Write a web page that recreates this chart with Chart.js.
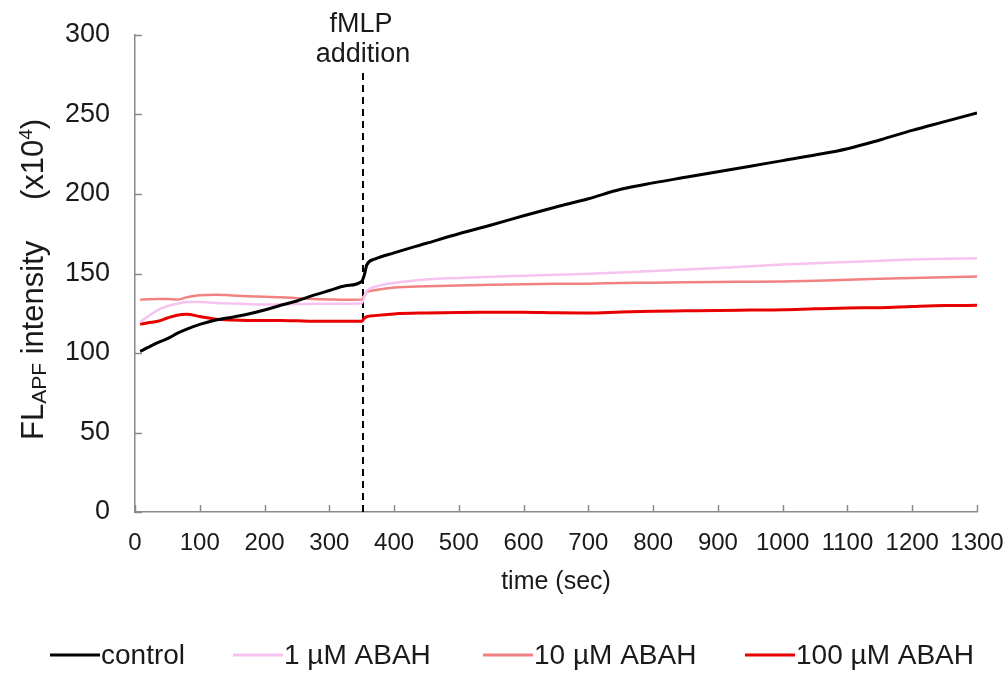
<!DOCTYPE html>
<html>
<head>
<meta charset="utf-8">
<title>FL APF intensity over time</title>
<script src="https://cdn.jsdelivr.net/npm/chart.js@4.4.1/dist/chart.umd.min.js"></script>
<style>
  html, body { margin: 0; padding: 0; background: #ffffff; }
  #wrap { width: 1006px; height: 673px; position: relative; }
</style>
</head>
<body>
<div id="wrap"><canvas id="chart"></canvas></div>
<script>
// Sampling times (sec)
const timeSec = [8, 20, 35, 50, 65, 80, 100, 125, 150, 175, 200, 225, 250, 275, 300, 325, 350,
  354, 358, 370, 400, 450, 500, 550, 600, 650, 700, 750, 800, 850, 900, 950, 1000,
  1050, 1100, 1150, 1200, 1250, 1300];

// FL(APF) intensity, x10^4
const controlValues = [101, 103.5, 106.5, 109, 112.3, 115, 118, 120.8, 122.5, 124.5, 127, 130, 132.7, 136.2, 139.3, 142.3, 145,
  149, 155.5, 159, 163, 169, 175, 180.5, 186.3, 191.8, 197, 203, 207, 210.5, 214, 217.5, 221,
  224.5, 228.5, 234, 240, 245.5, 251];
const abah1Values = [119.5, 123, 127, 129.5, 131, 132, 132, 131.5, 131.2, 130.8, 130.5, 130.5, 130.8, 131, 131, 131, 131.3,
  135, 139, 141.5, 144, 146.2, 147.2, 148, 148.6, 149.2, 149.8, 150.6, 151.5, 152.5, 153.5, 154.5, 155.6,
  156.5, 157.2, 158, 158.8, 159.3, 159.6];
const abah10Values = [133.5, 133.8, 134, 134, 133.6, 135, 136.3, 136.7, 136.2, 135.7, 135.3, 135, 134.5, 134, 133.7, 133.5, 133.6,
  136, 138.3, 139.5, 141.2, 142, 142.5, 143, 143.3, 143.5, 143.6, 144, 144.2, 144.5, 144.7, 144.8, 145,
  145.5, 146, 146.7, 147.2, 147.7, 148.1];
const abah100Values = [118, 119, 120, 122, 123.8, 124.3, 123, 121.3, 120.7, 120.5, 120.5, 120.5, 120.3, 120, 120, 120, 120,
  121.8, 122.8, 123.5, 124.6, 125.2, 125.5, 125.6, 125.7, 125.3, 125.2, 125.8, 126.2, 126.5, 126.8, 127, 127.2,
  127.8, 128.3, 128.5, 129.2, 129.8, 130];

// fMLP addition marker
const fmlpTime = 352;
const fmlpMarkerRange = [0, 278];

const seriesLabels = ['control', '1 \u00b5M ABAH', '10 \u00b5M ABAH', '100 \u00b5M ABAH'];
const seriesColors = ['#000000', '#f6c3f1', '#f28282', '#e80000'];
const seriesWidths = [3, 2.5, 2.5, 3];
const seriesValues = [controlValues, abah1Values, abah10Values, abah100Values];

const FF = "'Liberation Sans', Arial, Helvetica, sans-serif";
const TEXT = '#1a1a1a';
const AXIS = '#8a8a8a';

const toPoints = vals => timeSec.map((t, i) => ({ x: t, y: vals[i] }));

const datasets = seriesValues.map((vals, i) => ({
  label: seriesLabels[i],
  data: toPoints(vals),
  borderColor: seriesColors[i],
  backgroundColor: seriesColors[i],
  borderWidth: seriesWidths[i],
  pointRadius: 0,
  cubicInterpolationMode: 'monotone',
  fill: false
}));
datasets.push({
  label: 'fMLP addition',
  data: fmlpMarkerRange.map(v => ({ x: fmlpTime, y: v })),
  borderColor: '#000000',
  borderWidth: 2,
  borderDash: [7, 5],
  pointRadius: 0,
  fill: false,
  inLegend: false
});

// Inward tick marks on both axes
const innerTicks = {
  id: 'innerTicks',
  afterDraw(chart) {
    const { ctx, chartArea } = chart;
    const xs = chart.scales.x, ys = chart.scales.y;
    ctx.save();
    ctx.strokeStyle = AXIS;
    ctx.lineWidth = 1.5;
    ctx.beginPath();
    ys.ticks.forEach(t => {
      const p = Math.round(ys.getPixelForValue(t.value)) + 0.5;
      ctx.moveTo(chartArea.left, p);
      ctx.lineTo(chartArea.left + 7, p);
    });
    xs.ticks.forEach(t => {
      const p = Math.round(xs.getPixelForValue(t.value)) + 0.5;
      ctx.moveTo(p, chartArea.bottom);
      ctx.lineTo(p, chartArea.bottom - 7);
    });
    ctx.stroke();
    ctx.restore();
  }
};

// Rotated y-axis title with subscript and superscript
const yTitle = {
  id: 'yTitle',
  afterDraw(chart) {
    const ctx = chart.ctx;
    ctx.save();
    ctx.fillStyle = TEXT;
    ctx.translate(43, 0);
    ctx.rotate(-Math.PI / 2);
    ctx.textAlign = 'left';
    ctx.textBaseline = 'alphabetic';
    let u = -440;
    ctx.font = `31px ${FF}`;
    ctx.fillText('FL', u, 0);
    u += ctx.measureText('FL').width;
    ctx.font = `21px ${FF}`;
    ctx.fillText('APF', u, 3);
    u += ctx.measureText('APF').width;
    ctx.font = `31px ${FF}`;
    ctx.fillText(' intensity', u, 0);
    u = -200;
    ctx.fillText('(x10', u, 0);
    u += ctx.measureText('(x10').width;
    ctx.font = `19px ${FF}`;
    ctx.fillText('4', u, -11);
    u += ctx.measureText('4').width;
    ctx.font = `31px ${FF}`;
    ctx.fillText(')', u, 0);
    ctx.restore();
  }
};

// Label above the fMLP marker line
const fmlpLabel = {
  id: 'fmlpLabel',
  afterDraw(chart) {
    const ctx = chart.ctx;
    const px = chart.scales.x.getPixelForValue(fmlpTime);
    ctx.save();
    ctx.fillStyle = TEXT;
    ctx.font = `27px ${FF}`;
    ctx.textAlign = 'center';
    ctx.textBaseline = 'alphabetic';
    ctx.fillText('fMLP', px - 2, 32);
    ctx.fillText('addition', px, 62);
    ctx.restore();
  }
};

// Legend row along the bottom
const legendStarts = [50, 233, 483, 745];
const bottomLegend = {
  id: 'bottomLegend',
  afterDraw(chart) {
    const ctx = chart.ctx;
    const y = 655;
    ctx.save();
    ctx.font = `28px ${FF}`;
    ctx.textBaseline = 'middle';
    ctx.textAlign = 'left';
    chart.data.datasets.filter(d => d.inLegend !== false).forEach((d, i) => {
      const x0 = legendStarts[i];
      ctx.strokeStyle = d.borderColor;
      ctx.lineWidth = 3;
      ctx.beginPath();
      ctx.moveTo(x0, y);
      ctx.lineTo(x0 + 50, y);
      ctx.stroke();
      ctx.fillStyle = TEXT;
      ctx.fillText(d.label, x0 + 51, y + 1);
    });
    ctx.restore();
  }
};

new Chart(document.getElementById('chart'), {
  type: 'line',
  data: { datasets },
  options: {
    responsive: true,
    maintainAspectRatio: false,
    animation: false,
    devicePixelRatio: 1,
    layout: { padding: { left: 0, right: 29, top: 35, bottom: 61 } },
    plugins: {
      legend: { display: false },
      tooltip: { enabled: false }
    },
    scales: {
      x: {
        type: 'linear',
        min: 0,
        max: 1300,
        ticks: { stepSize: 100, color: TEXT, font: { family: FF, size: 24 }, padding: 0, maxRotation: 0,
          callback: v => String(v) },
        grid: { display: false, drawTicks: true, tickLength: 17 },
        border: { display: true, color: AXIS, width: 1.5 },
        title: { display: true, text: 'time (sec)', color: TEXT, font: { family: FF, size: 25 }, padding: { top: 0, bottom: 15 } },
        afterFit(scale) { scale.height = 100; }
      },
      y: {
        min: 0,
        max: 300,
        ticks: { stepSize: 50, color: TEXT, font: { family: FF, size: 27 }, padding: 0,
          callback: v => String(v) },
        grid: { display: false, drawTicks: true, tickLength: 25 },
        border: { display: true, color: AXIS, width: 1.5 },
        afterFit(scale) { scale.width = 135; }
      }
    }
  },
  plugins: [innerTicks, yTitle, fmlpLabel, bottomLegend]
});
</script>
</body>
</html>
